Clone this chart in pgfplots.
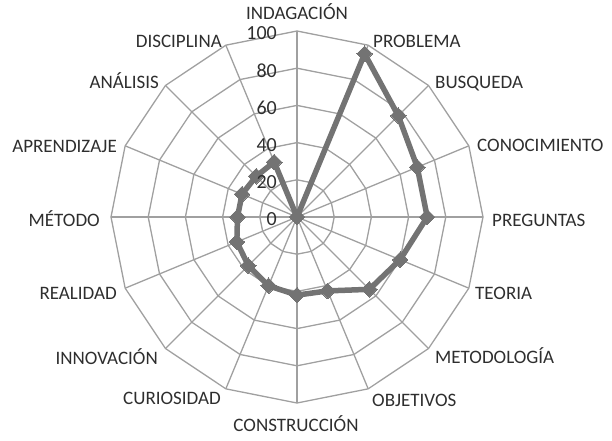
\documentclass[border=0pt]{standalone}
\usepackage{fontspec}
\setmainfont{Carlito}
\usepackage{pgfplots}
\pgfplotsset{compat=1.18}
\usepgfplotslibrary{polar}

\definecolor{gridc}{HTML}{A0A0A0}
\definecolor{serie}{HTML}{737373}
\definecolor{txt}{HTML}{2E2E2E}

\begin{document}
\begin{tikzpicture}
    \useasboundingbox (-297pt,-223pt) rectangle (315pt,217pt);
    \begin{axis}[
            scale only axis,
            width=372pt, height=372pt,
            at={(-186pt,-186pt)}, anchor=south west,
            xmin=-100, xmax=100,
            ymin=-100, ymax=100,
            hide axis,
            clip=false,
        ]

        % polygon rings
        \pgfplotsinvokeforeach{20,40,60,80,100}{
            \draw[gridc, line width=1.3pt] (axis cs:0,#1)
            \foreach \a in {1,...,15} { -- (axis cs:{#1*cos(90-22.5*\a)},{#1*sin(90-22.5*\a)}) } -- cycle;
        }
        % spokes
        \pgfplotsinvokeforeach{0,...,15}{
            \draw[gridc, line width=1.3pt] (axis cs:0,0) -- (axis cs:{100*cos(90-22.5*#1)},{100*sin(90-22.5*#1)});
        }

        % series (angle, value), clockwise from INDAGACION
        \addplot[serie, line width=5.5pt, data cs=polar,
            mark=square*, mark size=5.5pt, mark options={rotate=45, line width=0pt}]
        coordinates {
                (90,0)      % INDAGACION
                (67.5,95)   % PROBLEMA
                (45,77)     % BUSQUEDA
                (22.5,70)   % CONOCIMIENTO
                (0,70)      % PREGUNTAS
                (-22.5,60)  % TEORIA
                (-45,55)    % METODOLOGIA
                (-67.5,43)  % OBJETIVOS
                (-90,42)    % CONSTRUCCION
                (-112.5,40) % CURIOSIDAD
                (-135,37)   % INNOVACION
                (-157.5,35) % REALIDAD
                (180,32)    % METODO
                (157.5,32)  % APRENDIZAJE
                (135,31)    % ANALISIS
                (112.5,32)  % DISCIPLINA
                (90,0)
            };
    \end{axis}

    % radial tick labels
    \begin{scope}[font=\fontsize{20}{22}\selectfont, text=txt,
            every node/.style={anchor=east, inner sep=0pt, text height=12.5pt, text depth=0pt}]
        \node at (-20pt,184pt) {100};
        \node at (-20pt,146pt) {80};
        \node at (-20pt,109pt) {60};
        \node at (-20pt,72pt) {40};
        \node at (-20pt,35pt) {20};
        \node at (-20pt,-2pt) {0};
    \end{scope}

    % category labels
    \begin{scope}[font=\fontsize{19}{22}\selectfont, text=txt,
            every node/.style={inner sep=0pt, text height=12pt, text depth=0pt}]
        \node[anchor=center] at (0pt,204pt) {INDAGACIÓN};
        \node[anchor=west] at (76pt,176pt) {PROBLEMA};
        \node[anchor=west] at (138pt,135pt) {BUSQUEDA};
        \node[anchor=west] at (180pt,72pt) {CONOCIMIENTO};
        \node[anchor=west] at (195pt,-3pt) {PREGUNTAS};
        \node[anchor=west] at (178pt,-76pt) {TEORIA};
        \node[anchor=west] at (138pt,-140pt) {METODOLOGÍA};
        \node[anchor=west] at (75pt,-183pt) {OBJETIVOS};
        \node[anchor=center] at (-1pt,-208pt) {CONSTRUCCIÓN};
        \node[anchor=east] at (-76pt,-181pt) {CURIOSIDAD};
        \node[anchor=east] at (-139pt,-141pt) {INNOVACIÓN};
        \node[anchor=east] at (-180pt,-76pt) {REALIDAD};
        \node[anchor=east] at (-197pt,-3pt) {MÉTODO};
        \node[anchor=east] at (-180pt,71pt) {APRENDIZAJE};
        \node[anchor=east] at (-138pt,135pt) {ANÁLISIS};
        \node[anchor=east] at (-75pt,176pt) {DISCIPLINA};
    \end{scope}
\end{tikzpicture}
\end{document}
